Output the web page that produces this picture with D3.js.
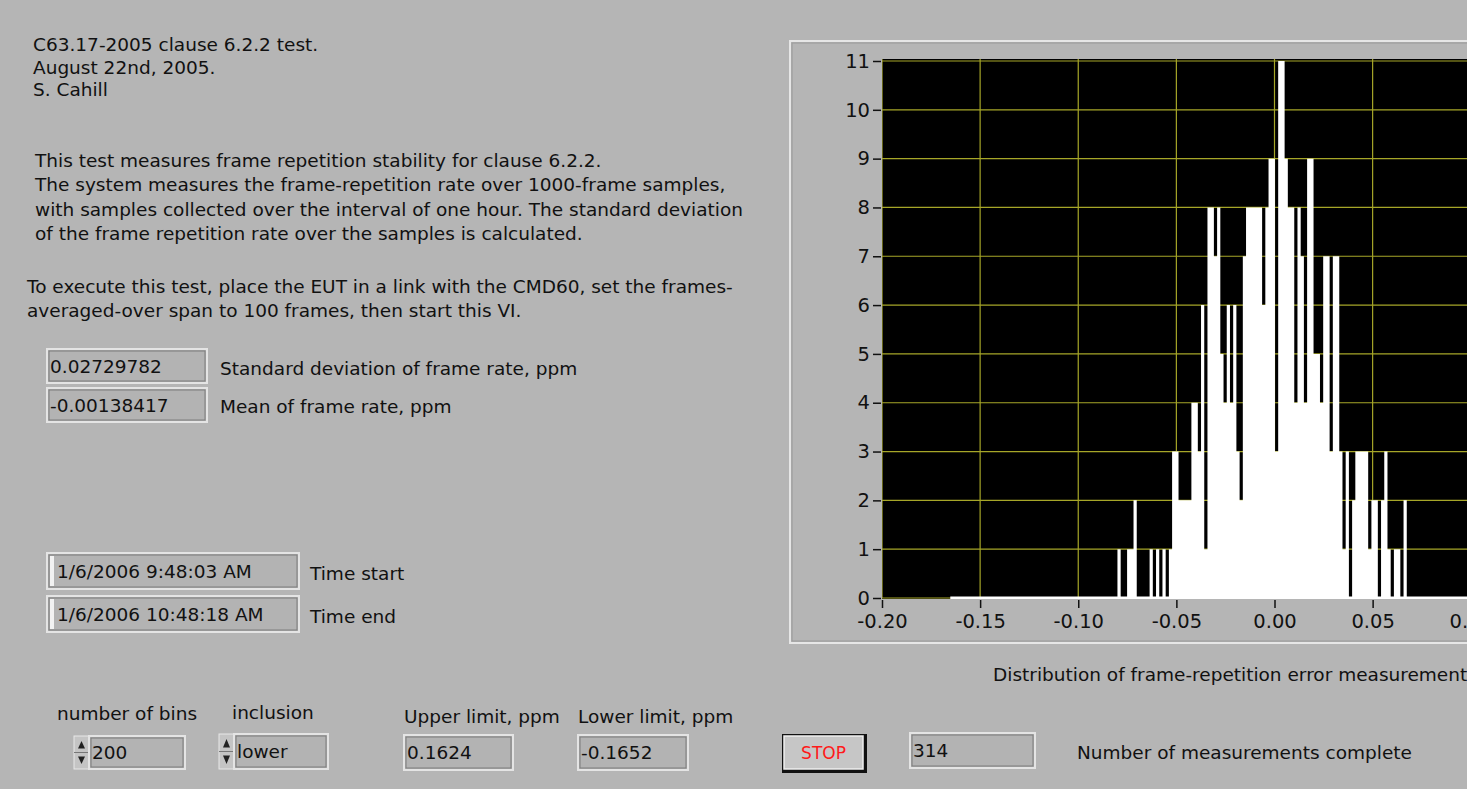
<!DOCTYPE html>
<html>
<head>
<meta charset="utf-8">
<script src="https://cdn.jsdelivr.net/npm/d3@7"></script>
<style>
  body { margin: 0; background: #b5b5b5; overflow: hidden; }
  svg { display: block; }
  text { font-family: "DejaVu Sans", "Liberation Sans", sans-serif; font-size: 18.5px; fill: #111; }
</style>
</head>
<body>
<div id="panel"></div>
<script>
// ---- values ----
const lowerLimit = -0.1652;
const upperLimit = 0.1624;
const binCount = 200;

// counts per bin, bin 0 starts at lowerLimit
const binCounts = [
  0, 0, 0, 0, 0, 0, 0, 0, 0, 0, 0, 0, 0, 0, 0, 0, 0, 0, 0, 0,
  0, 0, 0, 0, 0, 0, 0, 0, 0, 0, 0, 0, 0, 0, 0, 0, 0, 0, 0, 0,
  0, 0, 0, 0, 0, 0, 0, 0, 0, 0, 0, 0, 1, 0, 0, 1, 1, 2, 0, 0,
  0, 0, 1, 0, 1, 0, 1, 0, 1, 3, 3, 2, 2, 2, 2, 4, 4, 3, 6, 1,
  8, 8, 7, 8, 5, 4, 6, 4, 6, 3, 2, 7, 8, 8, 8, 8, 8, 6, 8, 9,
  9, 3, 11, 11, 9, 8, 8, 4, 8, 7, 4, 9, 9, 5, 5, 4, 7, 7, 3, 7,
  7, 3, 1, 3, 0, 2, 3, 3, 3, 3, 1, 2, 2, 0, 2, 3, 1, 0, 1, 1,
  0, 2, 0, 0, 0, 0, 0, 0, 0, 0, 0, 0, 0, 0, 0, 0, 0, 0, 0, 0,
  0, 0, 0, 0, 0, 0, 0, 0, 0, 0, 0, 0, 0, 0, 0, 0, 0, 0, 0, 0,
  0, 0, 0, 0, 0, 0, 0, 0, 0, 0, 0, 0, 0, 0, 0, 0, 0, 0, 0, 0
];

// ticks that fall inside the visible part of the graph
const xTicks = [-0.20, -0.15, -0.10, -0.05, 0.00, 0.05, 0.10];
const yTicks = [0, 1, 2, 3, 4, 5, 6, 7, 8, 9, 10, 11];

const headerLines = ["C63.17-2005 clause 6.2.2 test.", "August 22nd, 2005.", "S. Cahill"];
const descLines = [
  "This test measures frame repetition stability for clause 6.2.2.",
  "The system measures the frame-repetition rate over 1000-frame samples,",
  "with samples collected over the interval of one hour. The standard deviation",
  "of the frame repetition rate over the samples is calculated."
];
const execLines = [
  "To execute this test, place the EUT in a link with the CMD60, set the frames-",
  "averaged-over span to 100 frames, then start this VI."
];

const stdDev = "0.02729782";
const mean = "-0.00138417";
const timeStart = "1/6/2006 9:48:03 AM";
const timeEnd = "1/6/2006 10:48:18 AM";
const numBins = "200";
const inclusion = "lower";
const upperText = "0.1624";
const lowerText = "-0.1652";
const measurements = "314";
const graphCaption = "Distribution of frame-repetition error measurements";

// ---- drawing ----
const width = 1467, height = 789;

const svg = d3.select("#panel")
  .append("svg")
  .attr("width", width)
  .attr("height", height);

svg.append("rect").attr("width", width).attr("height", height).attr("fill", "#b5b5b5");

function textLines(lines, x, y0, step) {
  svg.append("g").selectAll("text")
    .data(lines)
    .enter()
    .append("text")
    .attr("x", x)
    .attr("y", (d, i) => y0 + i * step)
    .text(d => d);
}

textLines(headerLines, 33, 51, 22.5);
textLines(descLines, 35, 167, 24.3);
textLines(execLines, 27, 293, 24.3);

// recessed LabVIEW indicator
function indicator(x, y, w, h, value, stripe) {
  const g = svg.append("g");
  g.append("rect").attr("x", x).attr("y", y).attr("width", w).attr("height", h)
    .attr("fill", "#b3b3b3").attr("stroke", "#e4e4e4").attr("stroke-width", 2);
  g.append("rect").attr("x", x + 2).attr("y", y + 2).attr("width", w - 4).attr("height", h - 4)
    .attr("fill", "none").attr("stroke", "#7c7c7c").attr("stroke-width", 1);
  let tx = x + 3;
  if (stripe) {
    g.append("rect").attr("x", x + 3).attr("y", y + 3).attr("width", 4).attr("height", h - 6)
      .attr("fill", "#f2f2f2");
    tx = x + 10;
  }
  g.append("text").attr("x", tx).attr("y", y + h / 2 + 6.5).text(value);
}

function spinner(x, y, w, h) {
  const g = svg.append("g");
  g.append("rect").attr("x", x).attr("y", y).attr("width", w).attr("height", h)
    .attr("fill", "#c4c4c4").attr("stroke", "#e8e8e8");
  g.append("line").attr("x1", x).attr("x2", x + w).attr("y1", y + h / 2).attr("y2", y + h / 2)
    .attr("stroke", "#777");
  const cx = x + w / 2;
  g.append("path").attr("d", `M${cx - 3.5},${y + h / 2 - 4}L${cx + 3.5},${y + h / 2 - 4}L${cx},${y + 5}Z`).attr("fill", "#222");
  g.append("path").attr("d", `M${cx - 3.5},${y + h / 2 + 4}L${cx + 3.5},${y + h / 2 + 4}L${cx},${y + h - 5}Z`).attr("fill", "#222");
}

indicator(47, 349, 160, 34, stdDev);
svg.append("text").attr("x", 220).attr("y", 375).text("Standard deviation of frame rate, ppm");
indicator(47, 388, 160, 34, mean);
svg.append("text").attr("x", 220).attr("y", 413).text("Mean of frame rate, ppm");

indicator(47, 553, 252, 36, timeStart, true);
svg.append("text").attr("x", 310).attr("y", 580).text("Time start");
indicator(47, 596, 252, 36, timeEnd, true);
svg.append("text").attr("x", 310).attr("y", 623).text("Time end");

svg.append("text").attr("x", 57).attr("y", 720).text("number of bins");
spinner(74, 736, 15, 33);
indicator(89, 736, 96, 33, numBins);

svg.append("text").attr("x", 232).attr("y", 719).text("inclusion");
spinner(219, 734, 15, 35);
indicator(234, 734, 94, 35, inclusion);

svg.append("text").attr("x", 404).attr("y", 723).text("Upper limit, ppm");
indicator(404, 735, 109, 35, upperText);
svg.append("text").attr("x", 578).attr("y", 723).text("Lower limit, ppm");
indicator(578, 735, 110, 35, lowerText);

// STOP button
const stop = svg.append("g");
stop.append("rect").attr("x", 782).attr("y", 734).attr("width", 85).attr("height", 39)
  .attr("fill", "#111");
stop.append("rect").attr("x", 784).attr("y", 736).attr("width", 79).attr("height", 33)
  .attr("fill", "#c6c6c6").attr("stroke", "#efefef").attr("stroke-width", 1.5);
stop.append("text").attr("x", 823.5).attr("y", 759).attr("text-anchor", "middle")
  .style("font-size", "17px").style("fill", "#ff1a1a").text("STOP");

indicator(910, 733, 125, 35, measurements);
svg.append("text").attr("x", 1077).attr("y", 759).text("Number of measurements complete");

// ---- histogram graph ----
const frame = { x: 790, y: 41, w: 720, h: 602 };
svg.append("rect").attr("x", frame.x).attr("y", frame.y).attr("width", frame.w).attr("height", frame.h)
  .attr("fill", "#b5b5b5").attr("stroke", "#e6e6e6").attr("stroke-width", 2);
svg.append("rect").attr("x", frame.x + 2).attr("y", frame.y + 2).attr("width", frame.w - 4).attr("height", frame.h - 4)
  .attr("fill", "none").attr("stroke", "#9a9a9a").attr("stroke-width", 1);

const plot = { left: 882, right: 1667, top: 59, bottom: 598 };

const x = d3.scaleLinear().domain([-0.20, 0.20]).range([plot.left, plot.right]);
const y = d3.scaleLinear().domain([0, 11]).range([plot.bottom, 61]);

svg.append("defs").append("clipPath").attr("id", "plotclip")
  .append("rect").attr("x", plot.left).attr("y", plot.top)
  .attr("width", plot.right - plot.left).attr("height", plot.bottom - plot.top + 1);

svg.append("rect").attr("x", plot.left).attr("y", plot.top)
  .attr("width", plot.right - plot.left).attr("height", plot.bottom - plot.top + 1)
  .attr("fill", "#000");

const grid = svg.append("g").attr("clip-path", "url(#plotclip)");
grid.selectAll("line.v").data(xTicks).enter().append("line")
  .attr("class", "v")
  .attr("x1", d => x(d)).attr("x2", d => x(d))
  .attr("y1", plot.top).attr("y2", plot.bottom)
  .attr("stroke", "#a6a628").attr("stroke-width", 1.2);
grid.selectAll("line.h").data(yTicks).enter().append("line")
  .attr("class", "h")
  .attr("x1", plot.left).attr("x2", plot.right)
  .attr("y1", d => y(d)).attr("y2", d => y(d))
  .attr("stroke", "#a6a628").attr("stroke-width", 1.2);

// histogram drawn as one stepped area so neighbouring bars do not leave seams
const binWidth = (upperLimit - lowerLimit) / binCount;
const steps = binCounts.map((c, i) => ({ x: lowerLimit + i * binWidth, count: c }));
steps.push({ x: upperLimit, count: binCounts[binCount - 1] });

const histArea = d3.area()
  .curve(d3.curveStepAfter)
  .x(d => x(d.x))
  .y0(plot.bottom + 1)
  .y1(d => d.count > 0 ? y(d.count) : plot.bottom - 1.5);

svg.append("path")
  .attr("clip-path", "url(#plotclip)")
  .attr("d", histArea(steps))
  .attr("fill", "#fff");

// axes
const yAxis = svg.append("g")
  .attr("transform", `translate(${plot.left - 1},0)`)
  .call(d3.axisLeft(y).tickValues(yTicks).tickFormat(d3.format("d")).tickSize(8).tickPadding(3));
yAxis.select(".domain").remove();

const xAxis = svg.append("g")
  .attr("transform", `translate(0,${plot.bottom + 2})`)
  .call(d3.axisBottom(x).tickValues(xTicks).tickFormat(d => d.toFixed(2)).tickSize(8).tickPadding(6));
xAxis.select(".domain").remove();

svg.selectAll(".tick line").attr("stroke", "#111").attr("stroke-width", 1.5);
svg.selectAll(".tick text")
  .style("font-family", '"DejaVu Sans", "Liberation Sans", sans-serif')
  .style("font-size", "19.5px")
  .attr("fill", "#111");

svg.append("text").attr("x", 993).attr("y", 681).text(graphCaption);
</script>
</body>
</html>
